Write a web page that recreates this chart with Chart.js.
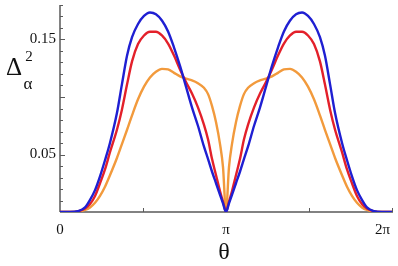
<!DOCTYPE html>
<html>
<head>
<meta charset="utf-8">
<script src="https://cdn.jsdelivr.net/npm/chart.js@4.4.1/dist/chart.umd.min.js"></script>
<style>
  html, body { margin: 0; padding: 0; background: #fff; }
</style>
</head>
<body>
<canvas id="deltaChart" width="398" height="266"></canvas>
<script>
// theta in units of pi (0 .. 2)
const thetaPi = [
  0, 0.060, 0.108, 0.151, 0.181, 0.211, 0.241, 0.271, 0.301, 0.343, 0.373,
  0.404, 0.434, 0.470, 0.506, 0.542, 0.578, 0.614, 0.651, 0.687, 0.723,
  0.759, 0.795, 0.831, 0.867, 0.892, 0.916, 0.940, 0.964, 0.982, 1.0,
  1.018, 1.036, 1.060, 1.084, 1.108, 1.133, 1.169, 1.205, 1.241, 1.277,
  1.313, 1.349, 1.386, 1.422, 1.458, 1.494, 1.530, 1.566, 1.596, 1.627,
  1.657, 1.699, 1.729, 1.759, 1.789, 1.819, 1.849, 1.892, 1.940, 2.0
];

const blueVals = [
  0, 0, 0.0007, 0.004, 0.0105, 0.019, 0.031, 0.045, 0.060, 0.086, 0.111,
  0.136, 0.152, 0.1635, 0.1705, 0.1735, 0.172, 0.1665, 0.157, 0.143, 0.127,
  0.109, 0.091, 0.075, 0.057, 0.046, 0.035, 0.025, 0.015, 0.0075, 0,
  0.0075, 0.015, 0.025, 0.035, 0.046, 0.057, 0.075, 0.091, 0.109, 0.127,
  0.143, 0.157, 0.1665, 0.172, 0.1735, 0.1705, 0.1635, 0.152, 0.136, 0.111,
  0.086, 0.060, 0.045, 0.031, 0.019, 0.0105, 0.004, 0.0007, 0, 0
];

const redVals = [
  0, 0, 0.0006, 0.003, 0.007, 0.014, 0.025, 0.037, 0.052, 0.0715, 0.089,
  0.111, 0.131, 0.146, 0.1535, 0.1568, 0.1568, 0.1535, 0.1465, 0.136, 0.124,
  0.113, 0.103, 0.091, 0.076, 0.063, 0.046, 0.032, 0.018, 0.009, 0,
  0.009, 0.018, 0.032, 0.046, 0.063, 0.076, 0.091, 0.103, 0.113, 0.124,
  0.136, 0.1465, 0.1535, 0.1568, 0.1568, 0.1535, 0.146, 0.131, 0.111, 0.089,
  0.0715, 0.052, 0.037, 0.025, 0.014, 0.007, 0.003, 0.0006, 0, 0
];

const orangeVals = [
  0, 0, 0.0003, 0.0018, 0.004, 0.008, 0.014, 0.022, 0.032, 0.047, 0.059,
  0.0715, 0.084, 0.098, 0.109, 0.117, 0.122, 0.1245, 0.124, 0.121, 0.118,
  0.116, 0.1145, 0.112, 0.108, 0.1025, 0.092, 0.078, 0.059, 0.039, 0,
  0.039, 0.059, 0.078, 0.092, 0.1025, 0.108, 0.112, 0.1145, 0.116, 0.118,
  0.121, 0.124, 0.1245, 0.122, 0.117, 0.109, 0.098, 0.084, 0.0715, 0.059,
  0.047, 0.032, 0.022, 0.014, 0.008, 0.004, 0.0018, 0.0003, 0, 0
];

// axis ticks
const xTicks = [0.5, 1, 1.5, 2];
const xTickLabels = [[0, "0"], [1, "\u03c0"], [2, "2\u03c0"]];
const yTicks = [0.01, 0.02, 0.03, 0.04, 0.05, 0.06, 0.07, 0.08, 0.09, 0.10,
  0.11, 0.12, 0.13, 0.14, 0.15, 0.16, 0.17, 0.18];
const yMajorTicks = [0.05, 0.10, 0.15];
const yTickLabels = [[0.15, "0.15"], [0.05, "0.05"]];

const SERIF = "'Liberation Serif', 'DejaVu Serif', serif";

const toPoints = (vals) => vals.map((v, i) => ({ x: thetaPi[i], y: v }));

// Mathematica-style axes: ticks point into the plot
const mathAxes = {
  id: "mathAxes",
  beforeDatasetsDraw(chart) {
    const { ctx, chartArea: a, scales: { x, y } } = chart;
    const y0 = y.getPixelForValue(0);
    ctx.save();
    ctx.strokeStyle = "#5a5a5a";
    ctx.lineWidth = 1.5;
    ctx.beginPath();
    ctx.moveTo(a.left, y0);
    ctx.lineTo(a.right + 1, y0);
    ctx.moveTo(a.left, a.top);
    ctx.lineTo(a.left, y0);
    ctx.stroke();

    ctx.lineWidth = 1;
    ctx.beginPath();
    yTicks.forEach((v) => {
      const py = Math.round(y.getPixelForValue(v)) + 0.5;
      const len = yMajorTicks.includes(v) ? 5 : 3;
      ctx.moveTo(a.left, py);
      ctx.lineTo(a.left + len, py);
    });
    xTicks.forEach((v) => {
      const px = Math.round(x.getPixelForValue(v)) + 0.5;
      ctx.moveTo(px, y0);
      ctx.lineTo(px, y0 - 4);
    });
    ctx.stroke();
    ctx.restore();
  },
  afterDraw(chart) {
    const { ctx, chartArea: a, scales: { x, y } } = chart;
    ctx.save();
    ctx.fillStyle = "#111";
    ctx.textBaseline = "middle";

    ctx.font = "15px " + SERIF;
    ctx.textAlign = "right";
    yTickLabels.forEach(([v, t]) => {
      ctx.fillText(t, a.left - 4, y.getPixelForValue(v));
    });

    xTickLabels.forEach(([v, t], i) => {
      const px = x.getPixelForValue(v);
      if (i === xTickLabels.length - 1) {
        ctx.textAlign = "right";
        ctx.fillText(t, px - 2, a.bottom + 18);
      } else {
        ctx.textAlign = "center";
        ctx.fillText(t, px, a.bottom + 18);
      }
    });

    // axis titles
    ctx.textAlign = "center";
    ctx.font = "24px " + SERIF;
    ctx.fillText("\u03b8", x.getPixelForValue(1) - 2, a.bottom + 41);
    ctx.font = "25px " + SERIF;
    ctx.fillText("\u0394", 14, 68);
    ctx.font = "15px " + SERIF;
    ctx.fillText("2", 29, 57);
    ctx.font = "17px " + SERIF;
    ctx.fillText("\u03b1", 28, 85);
    ctx.restore();
  },
};

new Chart(document.getElementById("deltaChart"), {
  type: "line",
  data: {
    datasets: [
      { data: toPoints(blueVals), borderColor: "#1f1fd2" },
      { data: toPoints(redVals), borderColor: "#e3202a" },
      { data: toPoints(orangeVals), borderColor: "#f29a3c" },
    ],
  },
  options: {
    responsive: false,
    devicePixelRatio: 1,
    animation: false,
    layout: { padding: { left: 60, right: 6, top: 5, bottom: 54 } },
    datasets: {
      line: {
        borderWidth: 2.4,
        pointRadius: 0,
        cubicInterpolationMode: "monotone",
        fill: false,
      },
    },
    scales: {
      x: { type: "linear", min: 0, max: 2, display: false },
      y: { min: 0, max: 0.18, display: false },
    },
    plugins: {
      legend: { display: false },
      tooltip: { enabled: false },
    },
  },
  plugins: [mathAxes],
});
</script>
</body>
</html>
